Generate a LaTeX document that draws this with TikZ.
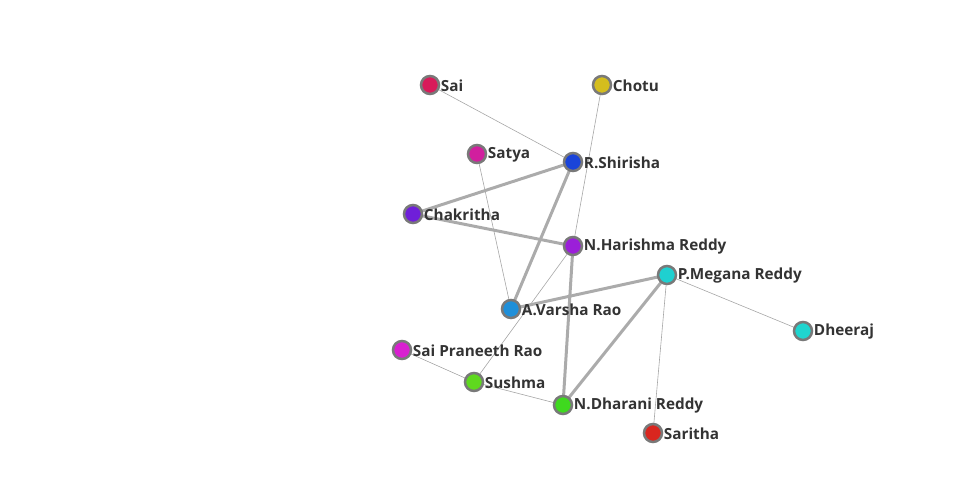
\documentclass[tikz,border=0pt]{standalone}
\usepackage{fontspec}
\setmainfont{Open Sans}
\begin{document}
\begin{tikzpicture}[x=1pt,y=-1pt,
  vtx/.style={circle,draw=gray!95!black,line width=2.5pt,minimum size=18pt,inner sep=0pt},
  lbl/.style={anchor=west,inner sep=0pt,xshift=0.5pt,yshift=-0.5pt,text=black!80,font=\fontsize{15.3}{17}\selectfont\bfseries},
  thin/.style={draw=black!35,line width=0.6pt},
  thick/.style={draw=black!33,line width=3pt}]
\useasboundingbox (0,0) rectangle (960,500);
\definecolor{cSai}{HTML}{D81B5A}
\definecolor{cChotu}{HTML}{D4BD1E}
\definecolor{cSatya}{HTML}{D11F9E}
\definecolor{cShirisha}{HTML}{1A44D9}
\definecolor{cChakritha}{HTML}{6F1FD9}
\definecolor{cHarishma}{HTML}{9B1FD9}
\definecolor{cMegana}{HTML}{1FD0D0}
\definecolor{cVarsha}{HTML}{1F8FD9}
\definecolor{cDheeraj}{HTML}{1FD5CF}
\definecolor{cPraneeth}{HTML}{D91FD0}
\definecolor{cSushma}{HTML}{5FD91F}
\definecolor{cDharani}{HTML}{3FD91F}
\definecolor{cSaritha}{HTML}{D9261F}
\coordinate (sai) at (430,85);
\coordinate (chotu) at (602,85);
\coordinate (satya) at (477,154);
\coordinate (shirisha) at (573,162);
\coordinate (chakritha) at (413,214);
\coordinate (harishma) at (573,246);
\coordinate (megana) at (667,275);
\coordinate (varsha) at (511,309);
\coordinate (dheeraj) at (803,331);
\coordinate (praneeth) at (402,350);
\coordinate (sushma) at (474,382);
\coordinate (dharani) at (563,405);
\coordinate (saritha) at (653,433);
% edges
\draw[thin] (sai) -- (shirisha);
\draw[thin] (chotu) -- (harishma);
\draw[thin] (satya) -- (varsha);
\draw[thin] (harishma) -- (sushma);
\draw[thin] (praneeth) -- (sushma);
\draw[thin] (sushma) -- (dharani);
\draw[thin] (megana) -- (dheeraj);
\draw[thin] (megana) -- (saritha);
\draw[thick] (shirisha) -- (chakritha);
\draw[thick] (shirisha) -- (varsha);
\draw[thick] (chakritha) -- (harishma);
\draw[thick] (harishma) -- (dharani);
\draw[thick] (varsha) -- (megana);
\draw[thick] (megana) -- (dharani);
% nodes
\foreach \c/\col/\t in {sai/cSai/Sai, chotu/cChotu/Chotu, satya/cSatya/Satya, shirisha/cShirisha/R.Shirisha, chakritha/cChakritha/Chakritha, harishma/cHarishma/N.Harishma Reddy, megana/cMegana/P.Megana Reddy, varsha/cVarsha/A.Varsha Rao, dheeraj/cDheeraj/Dheeraj, praneeth/cPraneeth/Sai Praneeth Rao, sushma/cSushma/Sushma, dharani/cDharani/N.Dharani Reddy, saritha/cSaritha/Saritha}{
  \node[vtx,fill=\col] (n\c) at (\c) {};
  \node[lbl] (l\c) at (n\c.east) {\t};
}
\end{tikzpicture}
\end{document}
